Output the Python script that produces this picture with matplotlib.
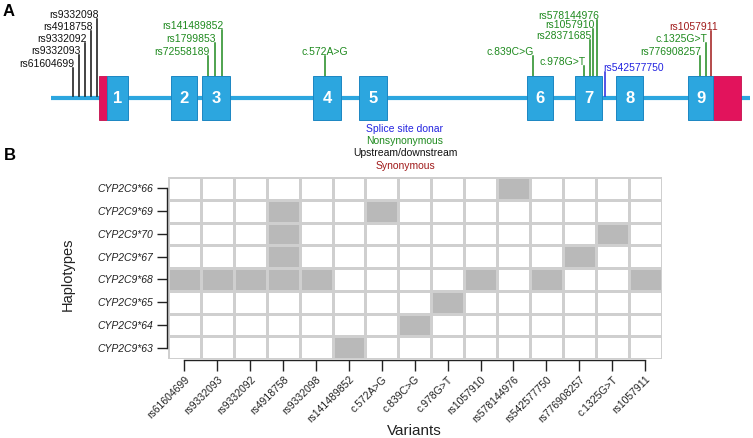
import matplotlib

matplotlib.use("Agg")
import matplotlib.pyplot as plt
import numpy as np
from matplotlib.colors import ListedColormap
from matplotlib.patches import Rectangle

plt.rcParams["font.family"] = ["Liberation Sans", "DejaVu Sans"]

# gene model (diagram units, left to right)
gene_span = [51, 750.5]
utr5 = [99.3, 106.7]
utr3 = [713.3, 740.7]
exon_names = ["1", "2", "3", "4", "5", "6", "7", "8", "9"]
exon_start = [106.7, 170.7, 202.0, 313.3, 359.0, 526.7, 575.0, 616.0, 688.3]
exon_end = [127.7, 197.3, 230.0, 340.7, 386.7, 553.3, 602.3, 643.3, 713.3]

# variants on the gene model
variant_names = [
    "rs61604699", "rs9332093", "rs9332092", "rs4918758", "rs9332098",
    "rs72558189", "rs1799853", "rs141489852", "c.572A>G", "c.839C>G",
    "c.978G>T", "rs28371685", "rs1057910", "rs578144976", "rs542577750",
    "rs776908257", "c.1325G>T", "rs1057911",
]
variant_pos = [73.3, 79.0, 85.0, 91.0, 97.0, 208.0, 214.7, 222.0, 325.0, 532.7,
               583.7, 590.0, 593.3, 597.3, 605.0, 700.0, 706.0, 711.0]
stem_top = [68, 55, 43, 31, 19, 56, 43, 30, 56, 56, 66, 40, 29, 20, 72, 56, 43, 31]
variant_type = [
    "up", "up", "up", "up", "up",
    "nonsyn", "nonsyn", "nonsyn", "nonsyn", "nonsyn",
    "nonsyn", "nonsyn", "nonsyn", "nonsyn", "splice",
    "nonsyn", "nonsyn", "syn",
]

type_colors = {"splice": "#2424e0", "nonsyn": "#1f8a1f", "up": "#111111", "syn": "#a01a1a"}
legend_names = ["Splice site donar", "Nonsynonymous", "Upstream/downstream", "Synonymous"]
legend_types = ["splice", "nonsyn", "up", "syn"]

# haplotype matrix
haplotypes = ["CYP2C9*66", "CYP2C9*69", "CYP2C9*70", "CYP2C9*67",
              "CYP2C9*68", "CYP2C9*65", "CYP2C9*64", "CYP2C9*63"]
grid_variants = [
    "rs61604699", "rs9332093", "rs9332092", "rs4918758", "rs9332098",
    "rs141489852", "c.572A>G", "c.839C>G", "c.978G>T", "rs1057910",
    "rs578144976", "rs542577750", "rs776908257", "c.1325G>T", "rs1057911",
]
star66 = ["rs578144976"]
star69 = ["rs4918758", "c.572A>G"]
star70 = ["rs4918758", "c.1325G>T"]
star67 = ["rs4918758", "rs776908257"]
star68 = ["rs61604699", "rs9332093", "rs9332092", "rs4918758", "rs9332098",
          "rs1057910", "rs542577750", "rs1057911"]
star65 = ["c.978G>T"]
star64 = ["c.839C>G"]
star63 = ["rs141489852"]
carried = [star66, star69, star70, star67, star68, star65, star64, star63]

EXON_BLUE = "#2ca6df"
UTR_RED = "#e2135c"
W, H = 753, 438

fig = plt.figure(figsize=(W / 100, H / 100), dpi=100)

# ---- panel A: gene model ----
top_h = 176
ax_a = fig.add_axes([0, 1 - top_h / H, 1, top_h / H])
ax_a.set_xlim(0, W)
ax_a.set_ylim(top_h, 0)
ax_a.axis("off")

intron_y = 97.7
box_top, box_bot = 75.5, 119.5
ax_a.plot(gene_span, [intron_y, intron_y], color=EXON_BLUE, lw=3.0,
          solid_capstyle="butt", zorder=1)
for start, end in (utr5, utr3):
    ax_a.add_patch(Rectangle((start, box_top), end - start, box_bot - box_top,
                             facecolor=UTR_RED, edgecolor="#c40f4c", lw=0.6, zorder=2))
for name, start, end in zip(exon_names, exon_start, exon_end):
    ax_a.add_patch(Rectangle((start, box_top), end - start, box_bot - box_top,
                             facecolor=EXON_BLUE, edgecolor="#1c86c2", lw=0.7, zorder=2))
    ax_a.text((start + end) / 2, (box_top + box_bot) / 2 + 1, name, color="white",
              fontsize=12, fontweight="bold", ha="center", va="center", zorder=3)

in_exon = lambda x: any(s <= x <= e for s, e in zip(exon_start, exon_end))
for name, x, top, kind in zip(variant_names, variant_pos, stem_top, variant_type):
    color = type_colors[kind]
    base = box_top if in_exon(x) else intron_y - 2
    ax_a.plot([x, x], [base, top], color=color, lw=1.1, zorder=1.5)
    ha, dx = "right", 1.5
    if name == "c.572A>G":
        ha, dx = "center", 0
    elif name == "rs542577750":
        ha, dx = "left", -2
    elif name == "rs1057911":
        dx = 7
    ax_a.text(x + dx, top + 1, name, color=color, fontsize=7.5, ha=ha, va="bottom")

for i, (label, kind) in enumerate(zip(legend_names, legend_types)):
    ax_a.text(405, 128.5 + i * 12.4, label, color=type_colors[kind], fontsize=7.5,
              ha="center", va="center")

fig.text(3 / W, 1 - 11 / H, "A", fontsize=12, fontweight="bold", ha="left", va="center")
fig.text(4 / W, 1 - 155 / H, "B", fontsize=12, fontweight="bold", ha="left", va="center")

# ---- panel B: haplotype grid ----
matrix = np.array([[1 if v in row else 0 for v in grid_variants] for row in carried])

left, right, top, bottom = 168, 661.5, 177, 359
ax_b = fig.add_axes([left / W, 1 - bottom / H, (right - left) / W, (bottom - top) / H])

# spines first: set_position resets the tick objects
for side in ("top", "right"):
    ax_b.spines[side].set_visible(False)
for side in ("left", "bottom"):
    ax_b.spines[side].set_position(("outward", 1))
    ax_b.spines[side].set_linewidth(1.0)
    ax_b.spines[side].set_color("#222222")

ax_b.pcolormesh(np.arange(len(grid_variants) + 1) - 0.5,
                np.arange(len(haplotypes) + 1) - 0.5, matrix,
                cmap=ListedColormap(["white", "#b9b9b9"]), vmin=0, vmax=1,
                edgecolors="#cfcfcf", linewidth=1.0)
ax_b.set_xlim(-0.5, len(grid_variants) - 0.5)
ax_b.set_ylim(len(haplotypes) - 0.5, -0.5)
ax_b.spines["left"].set_bounds(0, len(haplotypes) - 1)
ax_b.spines["bottom"].set_bounds(0, len(grid_variants) - 1)

ax_b.set_xticks(range(len(grid_variants)))
ax_b.set_xticklabels(grid_variants, rotation=45, ha="right", rotation_mode="anchor",
                     fontsize=7.5, color="#222222")
ax_b.set_yticks(range(len(haplotypes)))
ax_b.set_yticklabels(haplotypes, fontsize=7.5, fontstyle="italic", color="#222222")
ax_b.tick_params(axis="x", length=8, width=1.0, pad=2, color="#222222")
ax_b.tick_params(axis="y", length=7, width=1.0, pad=2.5, color="#222222")

fig.text(68 / W, 1 - 274 / H, "Haplotypes", fontsize=10.5, rotation=90,
         ha="center", va="center", color="#222222")
fig.text((left + right) / 2 / W, 1 - 431 / H, "Variants", fontsize=11,
         ha="center", va="center", color="#222222")

fig.savefig("out.png", dpi=100)
